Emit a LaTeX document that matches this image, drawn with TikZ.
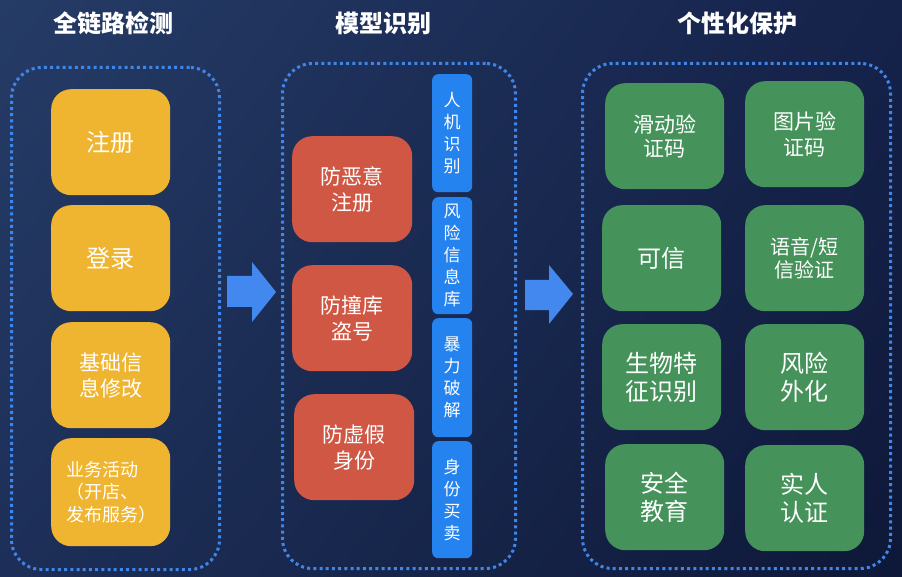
\documentclass[tikz,border=0pt]{standalone}
\usepackage{fontspec}
\setmainfont{Noto Sans CJK SC}
\usetikzlibrary{positioning,shadings}
\definecolor{bgA}{HTML}{253C66}
\definecolor{bgB}{HTML}{15224A}
\definecolor{bgC}{HTML}{1D2F58}
\definecolor{bgD}{HTML}{0E1838}
\definecolor{dotblue}{HTML}{3F86E8}
\definecolor{yel}{HTML}{F0B530}
\definecolor{redc}{HTML}{D05744}
\definecolor{bluec}{HTML}{2583F0}
\definecolor{greenc}{HTML}{45935A}
\definecolor{arrowc}{HTML}{4288EE}
\begin{document}
\begin{tikzpicture}[x=1pt,y=-1pt,
  cont/.style={draw=dotblue, line width=3pt, dash pattern=on 3pt off 3.2pt, rounded corners=30pt, anchor=north west, inner sep=0pt},
  box/.style={rounded corners=20pt, inner sep=0pt, anchor=north west, text=white, align=center, minimum width=119pt, minimum height=106pt},
  ybox/.style={box, fill=yel},
  rbox/.style={box, fill=redc, minimum width=120pt},
  gbox/.style={box, fill=greenc},
  bbox/.style={rounded corners=6pt, inner sep=0pt, anchor=north west, text=white, align=center, fill=bluec, minimum width=40pt, minimum height=118pt, font=\fontsize{17}{22}\selectfont},
  ttl/.style={text=white, font=\fontsize{24}{28}\selectfont\bfseries},
  big/.style={font=\fontsize{24}{28}\selectfont},
  mid/.style={font=\fontsize{21}{26}\selectfont},
  blockarrow/.style={fill=arrowc}
]
\useasboundingbox (0,0) rectangle (902,577);
\shade[upper left=bgA, upper right=bgB, lower left=bgC, lower right=bgD] (0,0) rectangle (902,577);

% titles
\node[ttl] (t1) at (113,23) {全链路检测};
\node[ttl] (t2) at (383,23) {模型识别};
\node[ttl] (t3) at (737,23) {个性化保护};

% containers
\node[cont, minimum width=208pt, minimum height=502pt] (c1) at (10,66) {};
\node[cont, minimum width=233pt, minimum height=505pt] (c2) at (281,62) {};
\node[cont, minimum width=308pt, minimum height=505pt] (c3) at (581,62) {};

% yellow
\node[ybox, big] (y1) at (51,89) {注册};
\node[ybox, big] (y2) at (51,205) {登录};
\node[ybox, mid] (y3) at (51,322) {基础信\\息修改};
\node[ybox, minimum height=108pt] (y4) at (51,438) {\hspace*{4pt}\begin{minipage}{92pt}\raggedright\fontsize{18}{22.5}\selectfont 业务活动\\（开店、\\发布服务）\end{minipage}};

% red
\node[rbox, mid] (r1) at (292,136) {防恶意\\注册};
\node[rbox, mid] (r2) at (292,265) {防撞库\\盗号};
\node[rbox, mid] (r3) at (294,394) {防虚假\\身份};

% blue
\node[bbox] (b1) at (432,74) {人\\机\\识\\别};
\node[bbox, minimum height=117pt] (b2) at (432,197) {风\\险\\信\\息\\库};
\node[bbox, minimum height=119pt] (b3) at (432,318) {暴\\力\\破\\解};
\node[bbox, minimum height=117pt] (b4) at (432,441) {身\\份\\买\\卖};

% green
\node[gbox, font=\fontsize{21}{24}\selectfont] (g1) at (605,83) {滑动验\\证码};
\node[gbox, font=\fontsize{21}{26}\selectfont] (g2) at (745,81) {图片验\\证码};
\node[gbox, big] (g3) at (602,205) {可信};
\node[gbox, font=\fontsize{20}{23}\selectfont] (g4) at (745,205) {语音/短\\信验证};
\node[gbox, big] (g5) at (602,324) {生物特\\征识别};
\node[gbox, big] (g6) at (745,324) {风险\\外化};
\node[gbox, big] (g7) at (605,444) {安全\\教育};
\node[gbox, big] (g8) at (745,445) {实人\\认证};

% block arrows
\fill[blockarrow] (227,276) -- (252,276) -- (252,262) -- (276,292) -- (252,322) -- (252,307) -- (227,307) -- cycle;
\fill[blockarrow] (525,280) -- (549,280) -- (549,265) -- (573,294) -- (549,324) -- (549,310) -- (525,310) -- cycle;
\end{tikzpicture}
\end{document}
